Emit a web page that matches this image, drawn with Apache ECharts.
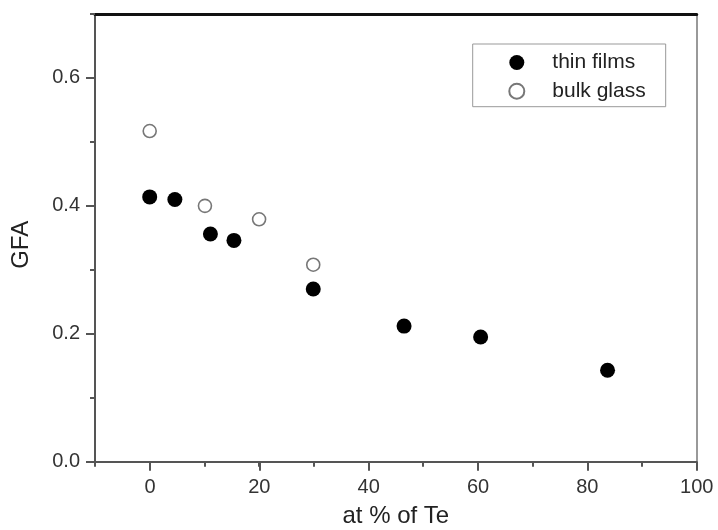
<!DOCTYPE html>
<html><head><meta charset="utf-8">
<script src="https://cdn.jsdelivr.net/npm/echarts@6/dist/echarts.min.js"></script>
<style>html,body{margin:0;padding:0;background:#fff}#c{width:718px;height:530px}</style>
</head><body><div id="c"></div>
<script>
var thinFilmsX = [0, 4.6, 11.1, 15.4, 29.9, 46.5, 60.5, 83.7];
var thinFilmsY = [0.414, 0.410, 0.356, 0.346, 0.270, 0.212, 0.195, 0.143];
var bulkGlassX = [0, 10.1, 20, 29.9];
var bulkGlassY = [0.517, 0.400, 0.379, 0.308];
var xMajorTicks = [0, 20, 40, 60, 80, 100];
var yMajorTicks = [0.0, 0.2, 0.4, 0.6];

function pairs(xs, ys){ return xs.map(function(x,i){return [x, ys[i]];}); }

var FONT = 'Liberation Sans, Arial, sans-serif';
var L = 95, R = 21.3, T = 14, B = 68.3;
var chart = echarts.init(document.getElementById('c'), null, {renderer:'canvas'});
chart.setOption({
  backgroundColor:'#fff',
  animation:false,
  textStyle:{fontFamily:FONT},
  grid:[
    {left:L, right:R, top:T, bottom:B, containLabel:false, outerBoundsMode:'none'},
    {left:150, right:R, top:T, bottom:B, containLabel:false, outerBoundsMode:'none'},
    {left:L, right:R, top:77.7, bottom:B, containLabel:false, outerBoundsMode:'none'}
  ],
  xAxis:[
    {gridIndex:0, type:'value', min:-10, max:100, interval:10, position:'bottom',
     axisLine:{onZero:false, lineStyle:{color:'#555', width:2}},
     axisTick:{show:true, length:5, lineStyle:{color:'#555', width:2}},
     axisLabel:{show:false}, splitLine:{show:false},
     name:'at % of Te', nameLocation:'middle', nameGap:43,
     nameTextStyle:{fontSize:24, color:'#222', fontFamily:FONT}},
    {gridIndex:0, type:'value', min:-10, max:100, position:'top',
     axisLine:{onZero:false, lineStyle:{color:'#111', width:3}},
     axisTick:{show:false}, axisLabel:{show:false}, splitLine:{show:false}},
    {gridIndex:1, type:'value', min:xMajorTicks[0], max:xMajorTicks[xMajorTicks.length-1], interval:20, position:'bottom',
     axisLine:{show:false, onZero:false},
     axisTick:{show:true, length:9, lineStyle:{color:'#555', width:2}},
     axisLabel:{show:true, margin:16, fontSize:20, color:'#333', fontFamily:FONT},
     splitLine:{show:false}},
    {gridIndex:2, type:'value', min:-10, max:100, show:false}
  ],
  yAxis:[
    {gridIndex:0, type:'value', min:0, max:0.7, interval:0.1, position:'left',
     axisLine:{onZero:false, lineStyle:{color:'#555', width:2}},
     axisTick:{show:true, length:5, lineStyle:{color:'#555', width:2}},
     axisLabel:{show:false}, splitLine:{show:false},
     name:'GFA', nameLocation:'middle', nameGap:62,
     nameTextStyle:{fontSize:24, color:'#222', fontFamily:FONT, padding:[0,14,0,0]}},
    {gridIndex:0, type:'value', min:0, max:0.7, position:'right',
     axisLine:{onZero:false, lineStyle:{color:'#777', width:1.5}},
     axisTick:{show:false}, axisLabel:{show:false}, splitLine:{show:false}},
    {gridIndex:1, type:'value', min:0, max:0.7, show:false},
    {gridIndex:2, type:'value', min:yMajorTicks[0], max:yMajorTicks[yMajorTicks.length-1], interval:0.2, position:'left',
     axisLine:{show:false, onZero:false},
     axisTick:{show:true, length:9, lineStyle:{color:'#555', width:2}},
     axisLabel:{show:true, margin:15, fontSize:20, color:'#333', fontFamily:FONT,
       formatter:function(v){return v.toFixed(1);}},
     splitLine:{show:false}}
  ],
  legend:{
    orient:'vertical', left:472.7, top:44,
    padding:[8, 20, 5, 35.6],
    itemWidth:61, itemHeight:15, itemGap:7.7,
    borderColor:'#999', borderWidth:1,
    textStyle:{fontSize:21, color:'#222', fontFamily:FONT},
    data:[{name:'thin films', icon:'circle'},{name:'bulk glass', icon:'circle'}]
  },
  series:[
    {name:'thin films', type:'scatter', xAxisIndex:0, yAxisIndex:0,
     symbol:'circle', symbolSize:15,
     itemStyle:{color:'#000', borderColor:'#000', borderWidth:0, opacity:1},
     data:pairs(thinFilmsX, thinFilmsY)},
    {name:'bulk glass', type:'scatter', xAxisIndex:0, yAxisIndex:0,
     symbol:'circle', symbolSize:13,
     itemStyle:{color:'#fff', borderColor:'#777', borderWidth:1.6, opacity:1},
     data:pairs(bulkGlassX, bulkGlassY)}
  ]
});
</script></body></html>
